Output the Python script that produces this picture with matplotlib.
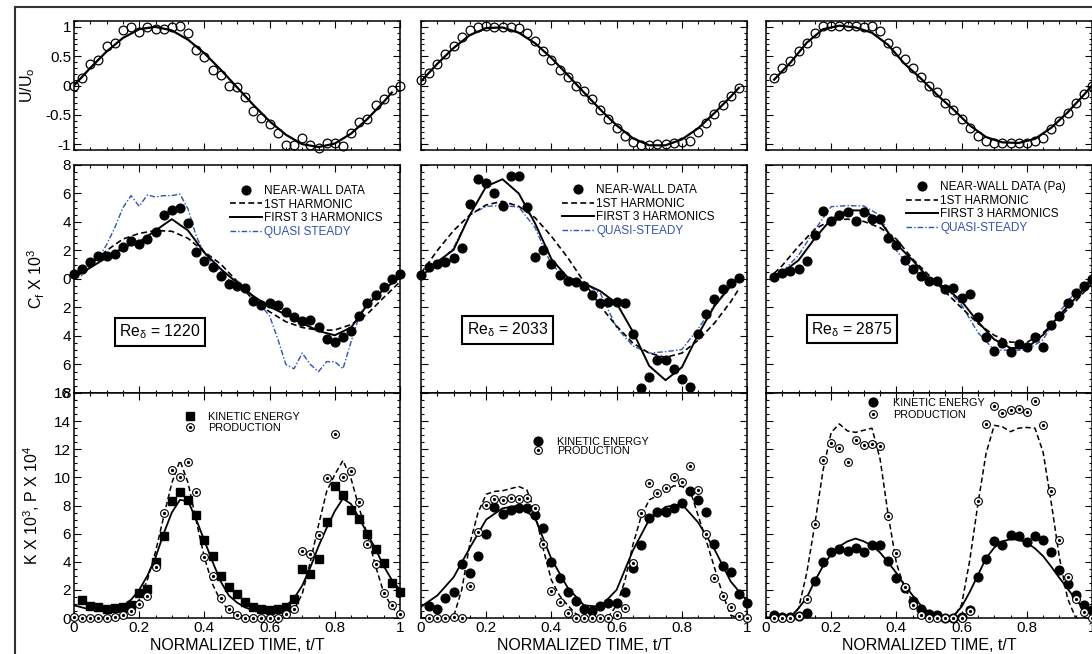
import matplotlib
matplotlib.use('Agg')
import matplotlib.pyplot as plt
import numpy as np
from matplotlib.ticker import MultipleLocator, FuncFormatter
from matplotlib.lines import Line2D

plt.rcParams['font.family'] = ['Liberation Sans', 'DejaVu Sans']
plt.rcParams['axes.unicode_minus'] = False
plt.rcParams['mathtext.fontset'] = 'custom'
plt.rcParams['mathtext.rm'] = 'Liberation Sans'
plt.rcParams['mathtext.it'] = 'Liberation Sans:italic'
plt.rcParams['mathtext.default'] = 'regular'

# time grids (t/T)
t_full = np.round(np.arange(41) * 0.025, 3)     # 0 ... 1
t_first = t_full[:40]                            # 0 ... 0.975
t_last = t_full[1:]                              # 0.025 ... 1
t_fit = np.round(np.arange(21) * 0.05, 3)        # 0 ... 1
t_fit_a = np.append(t_fit[:20], 0.975)           # 0 ... 0.95, 0.975
t_fit_b = np.append(np.round(np.arange(20) * 0.05 + 0.025, 3), 1.0)
t_fit_c = np.append(0.025, t_fit[1:])            # 0.025, 0.05 ... 1

# ---- U/Uo ----
u_data_1 = [0, 0.13, 0.37, 0.43, 0.67, 0.73, 0.95, 1.0, 0.92, 1.0, 0.97, 0.97, 1.0, 1.02, 0.89,
            0.6, 0.49, 0.27, 0.18, 0.0, -0.02, -0.2, -0.43, -0.55, -0.65, -0.81, -1.01, -1.02,
            -0.89, -1.01, -1.06, -0.98, -0.98, -1.04, -0.81, -0.63, -0.57, -0.34, -0.23, -0.08, 0.0]
u_data_2 = [0.09, 0.22, 0.37, 0.53, 0.67, 0.83, 0.94, 1.0, 1.02, 1.0, 1.0, 1.0, 0.98, 0.9, 0.76,
            0.58, 0.43, 0.27, 0.14, 0.0, -0.09, -0.23, -0.41, -0.57, -0.73, -0.86, -0.97, -1.01,
            -1.01, -0.99, -0.99, -0.98, -0.97, -0.94, -0.8, -0.64, -0.48, -0.34, -0.18, -0.04]
u_data_3 = [0.12, 0.29, 0.42, 0.58, 0.73, 0.89, 1.01, 1.02, 1.01, 1.01, 1.01, 0.99, 1.01, 0.93,
            0.73, 0.58, 0.45, 0.29, 0.14, 0.0, -0.11, -0.3, -0.41, -0.57, -0.73, -0.86, -0.95,
            -0.98, -0.98, -0.98, -0.98, -0.98, -0.95, -0.9, -0.74, -0.61, -0.47, -0.3, -0.15, 0.0]
u_fit_1 = [0.0, 0.3, 0.58, 0.81, 0.96, 1.0, 0.94, 0.78, 0.55, 0.27, -0.03, -0.33, -0.61, -0.84,
           -1.0, -1.05, -0.99, -0.82, -0.57, -0.28, -0.12]
u_fit_2 = [0.07, 0.37, 0.64, 0.86, 0.98, 0.99, 0.9, 0.72, 0.47, 0.18, -0.12, -0.41, -0.68, -0.9,
           -1.02, -1.02, -0.92, -0.73, -0.47, -0.19, -0.04]
u_fit_3 = [0.1, 0.39, 0.73, 0.96, 1.02, 0.99, 0.9, 0.69, 0.37, 0.12, -0.16, -0.41, -0.68, -0.88,
           -0.97, -0.98, -0.91, -0.72, -0.46, -0.16, 0.0]

# ---- Cf x 10^3 ----
cf_data_1 = [0.35, 0.68, 1.17, 1.59, 1.59, 1.78, 2.22, 2.64, 2.43, 2.78, 3.32, 4.51, 4.82, 4.96,
             3.93, 1.9, 1.26, 0.87, 0.21, -0.37, -0.47, -0.65, -1.52, -1.85, -1.71, -1.85, -2.32,
             -2.64, -2.95, -2.88, -3.37, -4.19, -4.42, -4.09, -3.65, -2.6, -1.71, -1.15, -0.54,
             -0.02, 0.35]
cf_data_2 = [0.28, 0.82, 1.05, 1.22, 1.45, 2.15, 5.26, 6.99, 6.76, 6.06, 5.15, 7.23, 7.23, 5.03,
             1.57, 2.04, 1.03, 0.28, -0.12, -0.23, -0.47, -1.12, -1.71, -1.59, -1.59, -1.71, -3.88,
             -7.67, -6.85, -5.68, -5.68, -6.34, -6.99, -7.56, -3.88, -2.46, -1.4, -0.73, -0.26, 0.09]
cf_data_3 = [0.12, 0.44, 0.58, 0.7, 1.26, 3.09, 4.77, 4.07, 4.49, 4.72, 4.07, 4.72, 4.21, 4.21,
             2.9, 2.39, 1.33, 0.7, 0.21, -0.14, -0.14, -0.73, -0.61, -1.36, -1.05, -2.64, -4.05,
             -5.03, -4.47, -5.1, -4.56, -4.8, -4.05, -4.75, -3.23, -2.57, -1.71, -1.01, -0.47, -0.02]
h1_1 = [0.0, 1.0, 2.0, 2.8, 3.2, 3.4, 3.35, 2.85, 1.9, 1.05, -0.15, -1.5, -2.3, -3.0, -3.4, -3.6,
        -3.58, -3.2, -2.45, -1.3, -0.2]
h3_1 = [0.1, 0.8, 1.5, 2.2, 2.6, 3.4, 4.2, 3.4, 1.85, 0.7, -0.25, -1.2, -1.95, -2.5, -3.1, -3.65,
        -3.95, -3.4, -1.8, -0.75, 0.15]
qs_1 = [0.0, 0.25, 0.8, 1.5, 2.4, 3.6, 5.0, 5.85, 5.1, 5.9, 5.75, 5.85, 5.85, 5.96, 4.9, 3.0, 1.8,
        1.1, 0.5, -0.05, -0.3, -0.7, -1.3, -1.9, -2.6, -4.2, -6.0, -6.3, -5.2, -6.0, -6.5, -5.8,
        -5.8, -6.3, -4.4, -2.6, -1.6, -1.0, -0.6, -0.2, 0.1]
h1_2 = [0.4, 2.0, 3.4, 4.5, 5.2, 5.45, 5.1, 4.3, 3.0, 1.5, -0.2, -1.9, -3.3, -4.5, -5.2, -5.5,
        -5.2, -4.3, -3.1, -1.6, -0.7]
h3_2 = [0.16, 1.2, 2.05, 4.5, 6.5, 7.0, 6.0, 3.9, 1.4, 0.1, -0.3, -0.85, -1.7, -3.7, -6.1, -7.1,
        -6.2, -3.9, -1.9, -0.5, 0.16]
qs_2 = [0.16, 1.0, 2.2, 4.5, 5.1, 5.15, 5.05, 3.6, 1.0, 0.0, -0.3, -1.0, -3.4, -4.7, -5.2, -5.1,
        -4.95, -3.5, -1.8, -0.5, 0.16]
h1_3 = [0.4, 0.95, 2.3, 3.5, 4.13, 4.2, 4.04, 3.6, 2.8, 1.4, 0.26, -0.9, -2.03, -3.12, -3.95,
        -4.43, -4.45, -3.78, -2.7, -1.56, -0.3]
h3_3 = [0.28, 0.45, 1.32, 2.86, 4.2, 4.82, 4.81, 4.05, 2.45, 1.31, 0.04, -0.6, -1.56, -3.0, -4.24,
        -4.84, -4.84, -3.92, -2.54, -1.33, -0.07]
qs_3 = [0.16, 0.5, 1.67, 3.46, 5.08, 5.15, 5.12, 4.47, 2.0, 0.63, 0.02, -0.56, -1.83, -3.76,
        -4.98, -5.0, -4.98, -4.26, -2.3, -0.9, 0.05]

# ---- K x 10^3 and P x 10^4 ----
k_data_1 = [1.28, 0.88, 0.77, 0.66, 0.7, 0.8, 0.95, 1.75, 2.05, 3.97, 5.81, 8.33, 8.97, 8.37, 7.3,
            5.53, 4.38, 3.01, 2.22, 1.7, 1.15, 0.79, 0.67, 0.55, 0.62, 0.79, 1.34, 3.49, 3.11,
            4.21, 6.84, 9.4, 8.73, 7.68, 7.06, 5.98, 4.9, 3.9, 2.51, 1.87]
p_data_1 = [0.07, 0, 0, 0, 0, 0.07, 0.24, 0.48, 1.03, 1.56, 3.61, 7.44, 10.53, 10.0, 11.12, 8.97,
            4.33, 3.01, 1.39, 0.62, 0.19, 0, 0, 0, 0, 0, 0.31, 0.67, 4.78, 4.55, 5.93, 9.93, 13.06,
            10.05, 10.48, 8.28, 5.29, 3.83, 1.75, 0.91, 0.26]
k_data_2 = [0.84, 0.62, 1.44, 1.82, 3.83, 3.23, 4.43, 5.98, 7.92, 7.42, 7.68, 7.8, 7.85, 7.3, 6.41,
            3.95, 2.82, 1.82, 1.2, 0.67, 0.48, 0.84, 1.1, 1.08, 1.87, 3.54, 5.22, 7.13, 7.54, 7.54,
            7.85, 8.21, 9.04, 8.37, 7.54, 5.29, 3.71, 3.25, 1.7, 1.08]
p_data_2 = [0, 0, 0, 0.05, 0, 2.27, 6.1, 8.04, 8.49, 8.4, 8.52, 8.49, 8.56, 7.85, 5.29, 1.94,
            1.15, 0.36, 0, 0, 0, 0, 0, 0.24, 0.74, 3.9, 7.44, 9.59, 8.88, 9.28, 10.0, 9.64, 10.79,
            9.09, 6.0, 2.82, 1.56, 0.79, 0.14, 0]
k_data_3 = [0.19, 0.1, 0.1, 0.12, 0.36, 2.66, 3.97, 4.67, 4.9, 4.74, 4.98, 4.67, 5.17, 5.17, 4.07,
            2.87, 2.15, 1.22, 0.67, 0.31, 0.19, 0, 0, 0.07, 0.55, 2.94, 4.19, 5.45, 5.17, 5.89,
            5.81, 5.41, 5.81, 5.53, 4.67, 3.42, 2.42, 1.63, 0.96, 0.55]
p_data_3 = [0, 0, 0, 0.12, 1.34, 6.7, 11.27, 12.46, 12.08, 11.08, 12.68, 12.32, 12.39, 12.2, 7.27,
            4.62, 2.22, 0.91, 0.19, 0, 0, 0, 0, 0.02, 0.5, 8.33, 13.78, 15.07, 14.55, 14.78, 14.83,
            14.67, 15.43, 13.71, 9.04, 5.53, 2.94, 1.34, 0.43, 0]
k_fit_1 = [0.9, 0.75, 0.6, 0.55, 0.55, 0.65, 0.85, 1.3, 2.0, 3.0, 4.3, 6.0, 7.5, 8.4, 8.3, 7.0,
           5.5, 4.0, 2.6, 1.6, 1.1, 0.75, 0.55, 0.5, 0.5, 0.6, 0.85, 1.4, 2.3, 3.6, 5.1, 6.4, 7.6,
           8.5, 8.1, 7.1, 6.0, 4.9, 3.7, 2.7, 2.0]
p_fit_1 = [0.05, 0.05, 0.05, 0.05, 0.05, 0.1, 0.25, 0.6, 1.3, 2.7, 4.7, 7.2, 9.6, 11.2, 9.6, 6.9,
           4.3, 2.4, 1.2, 0.55, 0.25, 0.1, 0.05, 0.05, 0.05, 0.1, 0.25, 0.6, 1.7, 4.0, 6.6, 9.0,
           10.2, 11.2, 9.9, 7.8, 5.9, 3.7, 1.8, 0.8, 0.1]
k_fit_2 = [0.8, 1.6, 2.9, 5.0, 7.0, 7.8, 8.0, 7.1, 4.2, 2.15, 0.9, 0.8, 2.0, 4.8, 7.0, 7.9, 8.1,
           6.8, 4.9, 2.6, 1.2]
p_fit_2 = [0.0, 0.0, 0.0, 0.0, 0.1, 2.0, 5.3, 7.5, 8.8, 9.0, 9.05, 9.2, 9.35, 9.1, 7.5, 4.9, 2.7,
           1.6, 0.9, 0.3, 0.05, 0.0, 0.0, 0.1, 0.9, 2.6, 5.2, 7.2, 8.4, 8.7, 9.0, 9.4, 9.35, 9.1,
           7.3, 5.5, 3.6, 1.7, 0.2, 0.0, 0.0]
k_fit_3 = [0.05, 0.05, 0.05, 0.07, 0.7, 1.45, 2.65, 3.7, 4.55, 5.1, 5.45, 5.65, 5.45, 5.15, 4.65,
           3.95, 3.2, 2.35, 1.6, 0.9, 0.4, 0.1, 0.0, 0.15, 0.8, 1.85, 3.05, 4.25, 5.0, 5.45, 5.6,
           5.57, 5.35, 4.95, 4.4, 3.65, 2.85, 2.1, 1.3, 0.65, 0.2]
p_fit_3 = [0.0, 0.0, 0.0, 0.0, 0.7, 3.2, 6.7, 10.5, 13.2, 13.8, 13.3, 13.2, 13.35, 13.5, 11.3, 7.3,
           3.9, 2.1, 1.2, 0.35, 0.0, 0.0, 0.0, 0.0, 0.95, 4.1, 8.1, 11.7, 13.7, 13.6, 13.25, 13.5,
           13.55, 13.5, 11.8, 8.2, 4.3, 1.4, 0.0, 0.0, 0.0]

re_labels = ['1220', '2033', '2875']
wall_labels = ['NEAR-WALL DATA', 'NEAR-WALL DATA', 'NEAR-WALL DATA (Pa)']
qs_labels = ['QUASI STEADY', 'QUASI-STEADY', 'QUASI-STEADY']

cols = [
    dict(tu=t_full, u=u_data_1, tuf=t_fit_a, uf=u_fit_1,
         tc=t_full, cf=cf_data_1, th=t_fit, h1=h1_1, h3=h3_1, tq=t_full, qs=qs_1,
         tk=t_last, k=k_data_1, tp=t_full, p=p_data_1, tkf=t_full, kf=k_fit_1, tpf=t_full, pf=p_fit_1,
         kmark='s'),
    dict(tu=t_first, u=u_data_2, tuf=t_fit_a, uf=u_fit_2,
         tc=t_first, cf=cf_data_2, th=t_fit_a, h1=h1_2, h3=h3_2, tq=t_fit_a, qs=qs_2,
         tk=t_last, k=k_data_2, tp=t_last, p=p_data_2, tkf=t_fit, kf=k_fit_2, tpf=t_full, pf=p_fit_2,
         kmark='o'),
    dict(tu=t_last, u=u_data_3, tuf=t_fit_b, uf=u_fit_3,
         tc=t_last, cf=cf_data_3, th=t_fit_c, h1=h1_3, h3=h3_3, tq=t_fit_c, qs=qs_3,
         tk=t_last, k=k_data_3, tp=t_last, p=p_data_3, tkf=t_full, kf=k_fit_3, tpf=t_full, pf=p_fit_3,
         kmark='o'),
]

# legend placement per column (axes fraction) and spacing
leg_mid = [(0.479, 0.912), (0.433, 0.916), (0.429, 0.929)]
leg_bot = [(0.34, 0.915, 1.18, 0.05), (0.343, 0.805, 1.27, -0.12), (0.312, 0.977, 1.36, 0.14)]
re_pos = [(0.264, 0.268), (0.265, 0.276), (0.264, 0.28)]

W, H = 1092, 654
BLUE = '#3153b0'
fig = plt.figure(figsize=(W / 100, H / 100), dpi=100)


def box(x0, y0, x1, y1):
    return [x0 / W, 1 - y1 / H, (x1 - x0) / W, (y1 - y0) / H]


def setup(ax, lo, hi, major, minor):
    ax.set_xlim(0, 1)
    ax.set_ylim(lo, hi)
    ax.xaxis.set_major_locator(MultipleLocator(0.2))
    ax.xaxis.set_minor_locator(MultipleLocator(0.05))
    ax.yaxis.set_major_locator(MultipleLocator(major))
    ax.yaxis.set_minor_locator(MultipleLocator(minor))
    ax.tick_params(which='both', direction='in', top=True, right=True, width=0.8,
                   labelsize=11, pad=2)
    ax.tick_params(which='major', length=5)
    ax.tick_params(which='minor', length=2.5)
    for s in ax.spines.values():
        s.set_linewidth(1.1)
    ax.xaxis.set_major_formatter(FuncFormatter(lambda v, p: '%g' % round(v, 2)))
    ax.yaxis.set_major_formatter(FuncFormatter(lambda v, p: '%g' % round(v, 2)))


lefts = [74, 421, 766]
for i, d in enumerate(cols):
    l = lefts[i]
    ax_u = fig.add_axes(box(l, 21, l + 326, 150))
    ax_c = fig.add_axes(box(l, 165, l + 326, 393))
    ax_k = fig.add_axes(box(l, 393, l + 326, 618))

    # velocity
    setup(ax_u, -1.1, 1.1, 0.5, 0.1)
    ax_u.plot(d['tuf'], d['uf'], color='k', lw=1.6, zorder=2)
    ax_u.plot(d['tu'], d['u'], 'o', ms=6.3, mfc='none', mec='k', mew=0.9, clip_on=False, zorder=3)

    # skin friction
    setup(ax_c, -8, 8, 2, 0.5)
    ax_c.yaxis.set_major_formatter(FuncFormatter(lambda v, p: '%g' % abs(round(v, 2))))
    l_qs, = ax_c.plot(d['tq'], d['qs'], color=BLUE, lw=1.0, ls=(0, (4, 1.5, 1, 1.5)), zorder=2)
    l_h1, = ax_c.plot(d['th'], d['h1'], color='k', lw=1.2, ls=(0, (3.5, 2)), zorder=2)
    l_h3, = ax_c.plot(d['th'], d['h3'], color='k', lw=1.4, zorder=2)
    l_cf, = ax_c.plot(d['tc'], d['cf'], 'o', ms=6.3, color='k', clip_on=False, zorder=3)
    ax_c.legend([l_cf, l_h1, l_h3, l_qs],
                [wall_labels[i], '1ST HARMONIC', 'FIRST 3 HARMONICS', qs_labels[i]],
                loc='upper left', bbox_to_anchor=leg_mid[i], borderaxespad=0, borderpad=0,
                frameon=False, fontsize=8.5, handlelength=2.7, handletextpad=0.2,
                labelspacing=0.13, labelcolor=['k', 'k', 'k', BLUE])
    ax_c.text(re_pos[i][0], re_pos[i][1], r'Re$_\delta$ = ' + re_labels[i],
              transform=ax_c.transAxes, ha='center', va='center', fontsize=11.3,
              bbox=dict(boxstyle='square,pad=0.3', fc='white', ec='k', lw=1.5), zorder=5)

    # turbulence kinetic energy and production
    setup(ax_k, 0, 16, 2, 0.5)
    ax_k.plot(d['tkf'], d['kf'], color='k', lw=1.3, zorder=2)
    ax_k.plot(d['tpf'], d['pf'], color='k', lw=1.1, ls=(0, (3.5, 2)), zorder=2)
    ms_k = 6.2 if d['kmark'] == 's' else 6.3
    l_k, = ax_k.plot(d['tk'], d['k'], d['kmark'], ms=ms_k, color='k', clip_on=False, zorder=3)
    l_p, = ax_k.plot(d['tp'], d['p'], 'o', ms=5.6, mfc='white', mec='k', mew=0.8,
                     clip_on=False, zorder=4)
    l_pd, = ax_k.plot(d['tp'], d['p'], 'o', ms=1.3, color='k', clip_on=False, zorder=5)
    bx, by, pad, sp = leg_bot[i]
    ax_k.legend([l_k, (l_p, l_pd)], ['KINETIC ENERGY', 'PRODUCTION'],
                loc='upper left', bbox_to_anchor=(bx, by), borderaxespad=0, borderpad=0,
                frameon=False, fontsize=7.8, handlelength=1.0, handletextpad=pad,
                labelspacing=sp)
    ax_k.set_xlabel('NORMALIZED TIME, t/T', fontsize=11.5, labelpad=2)

    ax_u.tick_params(labelbottom=False, labelleft=(i == 0))
    ax_c.tick_params(labelbottom=False, labelleft=(i == 0))
    ax_k.tick_params(labelleft=(i == 0))

    if i == 0:
        ax_u.set_ylabel('U/U$_o$', fontsize=11.5)
        ax_u.yaxis.set_label_coords(-0.113, 0.5)
        ax_c.set_ylabel('C$_f$ X 10$^3$', fontsize=11.5)
        ax_c.yaxis.set_label_coords(-0.083, 0.5)
        ax_k.set_ylabel('K X 10$^3$, P X 10$^4$', fontsize=11.5)
        ax_k.yaxis.set_label_coords(-0.098, 0.5)

# outer frame
fig.add_artist(Line2D([15 / W, 15 / W], [0, 1 - 7 / H], transform=fig.transFigure,
                      color='#333333', lw=1.5))
fig.add_artist(Line2D([15 / W, 1], [1 - 7 / H, 1 - 7 / H], transform=fig.transFigure,
                      color='#333333', lw=1.5))

fig.savefig('out.png', dpi=100)
